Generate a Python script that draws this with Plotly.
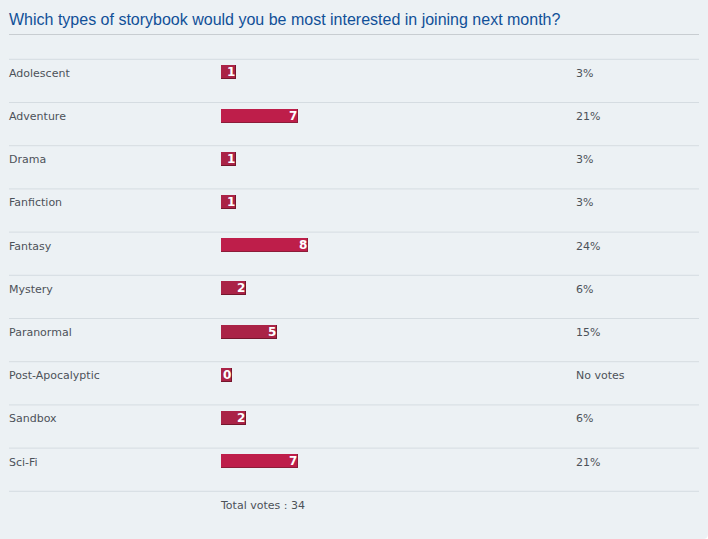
import plotly.graph_objects as go

title = "Which types of storybook would you be most interested in joining next month?"
categories = ["Adolescent", "Adventure", "Drama", "Fanfiction", "Fantasy",
              "Mystery", "Paranormal", "Post-Apocalyptic", "Sandbox", "Sci-Fi"]
votes = [1, 7, 1, 1, 8, 2, 5, 0, 2, 7]

W, H = 708, 539
total = sum(votes)
pcts = [round(v / total * 100) for v in votes]

# pixel geometry helpers (layout only)
PX_PER_VOTE = 10.3
BASE = -0.46
BAR_LEFT_PX = 221
ROW_PX = 43.2
ROW0_CENTER_PX = 72.3
x0 = BASE - BAR_LEFT_PX / PX_PER_VOTE
x1 = x0 + W / PX_PER_VOTE
y_top = -ROW0_CENTER_PX / ROW_PX
y_bot = y_top + H / ROW_PX
MIN_VOTE_DISPLAY = 0.6
PAD = 2  # annotation internal padding compensation (px)

def bar_colors(p):
    if p < 20:
        return "#AA2346", "#74162C"
    elif p < 40:
        return "#BE1E4A", "#8C1C38"
    elif p < 60:
        return "#D11A4E", "#A51A3E"
    return "#E41653", "#B81A46"

rows = list(range(len(categories)))
disp = [max(v, MIN_VOTE_DISPLAY) for v in votes]
light = [bar_colors(p)[0] for p in pcts]
dark = [bar_colors(p)[1] for p in pcts]
px = 1 / PX_PER_VOTE
py = 1 / ROW_PX

fig = go.Figure()
fig.add_trace(go.Bar(
    orientation="h", y=rows, x=[d - BASE for d in disp], base=BASE,
    width=14 * py, offset=-7 * py, marker=dict(color=dark, line=dict(width=0)),
    hoverinfo="skip", showlegend=False))
fig.add_trace(go.Bar(
    orientation="h", y=rows, x=[d - BASE - px for d in disp], base=BASE,
    width=13 * py, offset=-7 * py, marker=dict(color=light, line=dict(width=0)),
    hoverinfo="skip", showlegend=False))

ann = []
shapes = []
label_font = dict(family="DejaVu Sans, Verdana, sans-serif", size=11, color="#4C5259")
for i, (c, v, p, d) in enumerate(zip(categories, votes, pcts, disp)):
    ann.append(dict(x=9 / W, xref="paper", y=i, yref="y", text=c, showarrow=False,
                    xanchor="left", yanchor="middle", xshift=-PAD, yshift=-1,
                    font=label_font))
    ann.append(dict(x=576 / W, xref="paper", y=i, yref="y",
                    text=(f"{p}%" if v > 0 else "No votes"), showarrow=False,
                    xanchor="left", yanchor="middle", xshift=-PAD, yshift=-1,
                    font=label_font))
    ann.append(dict(x=d, xref="x", y=i, yref="y", text=f"<b>{v}</b>", showarrow=False,
                    xanchor="right", yanchor="middle", xshift=1, yshift=0,
                    font=dict(family="DejaVu Sans, Verdana, sans-serif", size=12, color="white")))
    shapes.append(dict(type="line", xref="paper", yref="y", x0=9 / W, x1=699 / W,
                       y0=i - 13 * py, y1=i - 13 * py,
                       line=dict(color="#D5DCE1", width=1), layer="below"))
n = len(categories)
shapes.append(dict(type="line", xref="paper", yref="y", x0=9 / W, x1=699 / W,
                   y0=n - 13 * py, y1=n - 13 * py,
                   line=dict(color="#D5DCE1", width=1), layer="below"))
ann.append(dict(x=221 / W, xref="paper", y=n, yref="y", text=f"Total votes : {total}",
                showarrow=False, xanchor="left", yanchor="middle", xshift=-PAD - 1,
                yshift=-1, font=label_font))
# title
ann.append(dict(x=9 / W, xref="paper", y=1 - 20 / H, yref="paper", text=title,
                showarrow=False, xanchor="left", yanchor="middle", xshift=-PAD,
                font=dict(family="Liberation Sans, Arial, sans-serif", size=16, color="#115098")))
shapes.append(dict(type="line", xref="paper", yref="paper", x0=9 / W, x1=699 / W,
                   y0=1 - 34.5 / H, y1=1 - 34.5 / H,
                   line=dict(color="#C8CDD1", width=1), layer="below"))
# background panel with rounded bottom-right corner
r = 5
def pp(xp, yp):
    return f"{xp / W} {1 - yp / H}"
panel = (f"M {pp(0,0)} L {pp(W,0)} L {pp(W,H-r)} Q {pp(W,H)} {pp(W-r,H)} "
         f"L {pp(0,H)} Z")
shapes.insert(0, dict(type="path", xref="paper", yref="paper", path=panel,
                      line=dict(width=0), fillcolor="#ECF1F4", layer="below"))

fig.update_layout(
    width=W, height=H, margin=dict(l=0, r=0, t=0, b=0),
    paper_bgcolor="white", plot_bgcolor="rgba(0,0,0,0)",
    barmode="overlay", bargap=0,
    xaxis=dict(range=[x0, x1], visible=False, fixedrange=True),
    yaxis=dict(range=[y_bot, y_top], visible=False, fixedrange=True),
    annotations=ann, shapes=shapes, showlegend=False,
)
fig.write_html("out.html")
